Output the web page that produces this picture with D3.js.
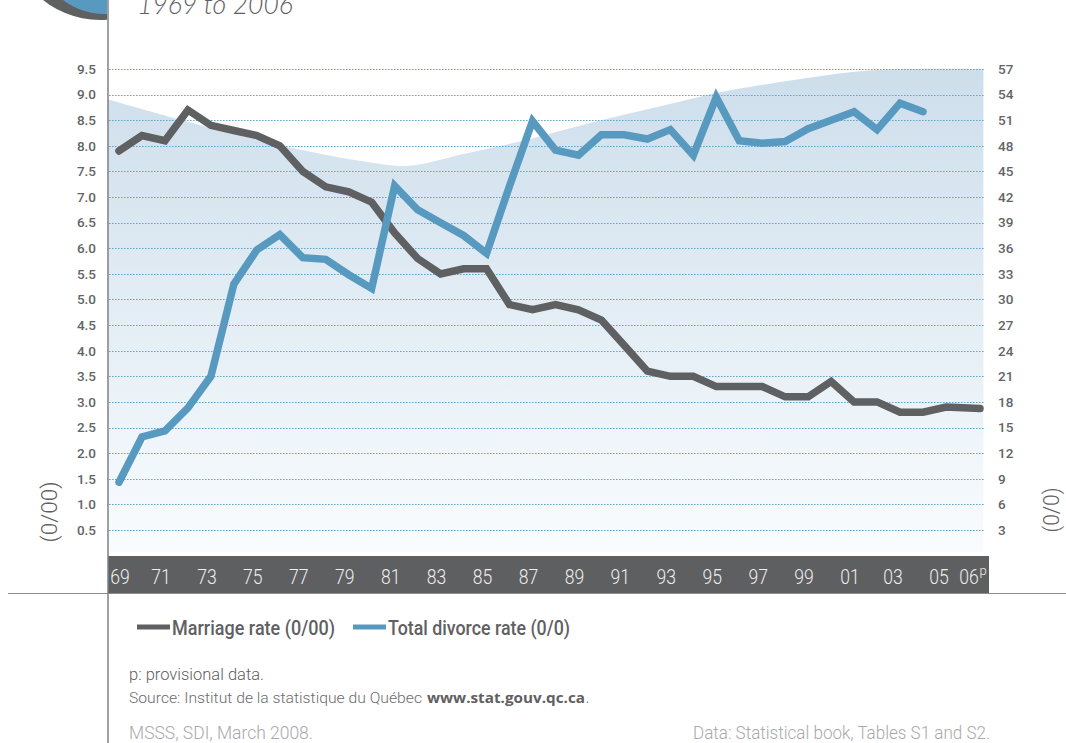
<!DOCTYPE html>
<html>
<head>
<meta charset="utf-8">
<script src="https://cdn.jsdelivr.net/npm/d3@7"></script>
<style>
html,body{margin:0;padding:0;background:#fff;overflow:hidden}
svg{display:block}
text{font-family:Roboto,"Open Sans",sans-serif}
</style>
</head>
<body>
<svg id="c" width="1066" height="743"></svg>
<script>
const years = d3.range(1969, 2007);
const marriageRate = [7.9,8.2,8.1,8.7,8.4,8.3,8.2,8.0,7.5,7.2,7.1,6.9,6.3,5.8,5.5,5.6,5.6,4.9,4.8,4.9,4.8,4.6,4.1,3.6,3.5,3.5,3.3,3.3,3.3,3.1,3.1,3.4,3.0,3.0,2.8,2.8,2.9,2.87];
const divorceRate = [8.6,13.9,14.6,17.3,21,31.8,35.8,37.6,34.9,34.7,32.9,31.3,43.3,40.5,39,37.5,35.4,43.3,50.9,47.5,46.9,49.3,49.3,48.8,49.9,46.9,53.7,48.6,48.3,48.5,50,51,52,49.9,53,52];
const leftTicks = [0.5,1,1.5,2,2.5,3,3.5,4,4.5,5,5.5,6,6.5,7,7.5,8,8.5,9,9.5];
const rightTicks = [3,6,9,12,15,18,21,24,27,30,33,36,39,42,45,48,51,54,57];
const yearLabels = [1969,1971,1973,1975,1977,1979,1981,1983,1985,1987,1989,1991,1993,1995,1997,1999,2001,2003,2005,2006];
const backdropYears = [1968.5,1972,1976.3,1980,1981.6,1984,1986.4,1989.9,1993.4,1995,1998.3,2002,2006.1];
const backdropValues = [8.91,8.47,7.98,7.67,7.61,7.84,8.08,8.49,8.86,9.03,9.28,9.48,9.5];

const svg = d3.select("#c");
const x = d3.scaleLinear().domain([1969,2005,2006]).range([119,946,980]);
const xLabel = d3.scaleLinear().domain([1969,1971,2001,2003,2005,2006]).range([120,161,850,893,939,969]);
const yL = d3.scaleLinear().domain([0,9.5]).range([555.6,69]);
const yR = d3.scaleLinear().domain([0,57]).range([555.6,69]);

const defs = svg.append("defs");
const g = defs.append("linearGradient").attr("id","bg").attr("gradientUnits","userSpaceOnUse")
  .attr("x1",0).attr("x2",0).attr("y1",69).attr("y2",552);
g.append("stop").attr("offset",0).attr("stop-color","#cddeeb");
g.append("stop").attr("offset",1).attr("stop-color","#f9fcfe");
defs.append("clipPath").attr("id","logo").append("rect").attr("x",0).attr("y",0).attr("width",107).attr("height",40);

// logo fragment
const logo = svg.append("g").attr("clip-path","url(#logo)");
logo.append("circle").attr("cx",100).attr("cy",-71).attr("r",91).attr("fill","#5f6062");
logo.append("circle").attr("cx",105).attr("cy",-56).attr("r",70).attr("fill","#589abf");

svg.append("text").attr("x",137).attr("y",14).attr("font-size",27).attr("font-weight",300)
  .attr("font-style","italic").attr("fill","#5f6062").attr("textLength",156).attr("lengthAdjust","spacingAndGlyphs")
  .style("font-family","Lato,Roboto,sans-serif").text("1969 to 2006");

// backdrop
const backdrop = d3.area().x(d=>x(d[0])).y0(552).y1(d=>yL(d[1])).curve(d3.curveCatmullRom.alpha(0.5));
svg.append("path").datum(backdropYears.map((yr,i)=>[yr,backdropValues[i]]))
  .attr("d",backdrop).attr("fill","url(#bg)");

// grid
svg.append("g").selectAll("line").data(leftTicks).join("line")
  .attr("x1",109).attr("x2",984).attr("y1",d=>Math.round(yL(d))+0.5).attr("y2",d=>Math.round(yL(d))+0.5)
  .attr("stroke","#62a8cf").attr("stroke-width",1).attr("stroke-dasharray","1.6 1.4");

// series
const line = yS => d3.line().x((d,i)=>x(years[i])).y(d=>yS(d));
svg.append("path").datum(marriageRate).attr("d",line(yL)).attr("fill","none")
  .attr("stroke","#5f6062").attr("stroke-width",7.5).attr("stroke-linecap","round").attr("stroke-linejoin","miter");
svg.append("path").datum(divorceRate).attr("d",line(yR)).attr("fill","none")
  .attr("stroke","#589abf").attr("stroke-width",7.5).attr("stroke-linecap","round").attr("stroke-linejoin","miter");

// axes
const axL = d3.axisLeft(yL).tickValues(leftTicks).tickFormat(d3.format(".1f")).tickSize(0).tickPadding(0);
const axR = d3.axisRight(yR).tickValues(rightTicks).tickFormat(d3.format("d")).tickSize(0).tickPadding(0);
const gl = svg.append("g").attr("transform","translate(96,0)").call(axL);
const gr = svg.append("g").attr("transform","translate(998,0)").call(axR);
[gl,gr].forEach(a=>{
  a.select(".domain").remove();
  a.selectAll("text").style("font-family","Roboto,sans-serif").attr("font-size",13.5).attr("font-weight",500).attr("fill","#636466");
});

// bottom bar and frame
svg.append("rect").attr("x",108).attr("y",556).attr("width",881).attr("height",38).attr("fill","#5e5f61");
svg.append("line").attr("x1",8).attr("x2",1066).attr("y1",593.5).attr("y2",593.5).attr("stroke","#8b8c8e").attr("stroke-width",1);
svg.append("line").attr("x1",108).attr("x2",108).attr("y1",0).attr("y2",743).attr("stroke","#808183").attr("stroke-width",1.5);

svg.append("g").selectAll("text").data(yearLabels).join("text")
  .attr("x",d=>xLabel(d)).attr("y",584).attr("text-anchor","middle").attr("font-size",20).attr("font-weight",300)
  .attr("fill","#eeeeee").attr("textLength",19.5).attr("lengthAdjust","spacingAndGlyphs").text(d=>String(d).slice(2));
svg.append("text").attr("x",979.5).attr("y",575).attr("font-size",13).attr("font-weight",300).attr("fill","#eeeeee").text("p");

// axis titles
svg.append("text").attr("transform","translate(57,512) rotate(-90)").attr("text-anchor","middle")
  .attr("font-size",22).attr("font-weight",300).attr("fill","#5f6062").attr("textLength",61).attr("lengthAdjust","spacingAndGlyphs").text("(0/00)");
svg.append("text").attr("transform","translate(1059,510) rotate(-90)").attr("text-anchor","middle")
  .attr("font-size",22).attr("font-weight",300).attr("fill","#5f6062").attr("textLength",45).attr("lengthAdjust","spacingAndGlyphs").text("(0/0)");

// legend
const legend = [
  {name:"Marriage rate (0/00)",color:"#5f6062",x0:137,x1:170,tx:172,tw:163},
  {name:"Total divorce rate (0/0)",color:"#589abf",x0:353,x1:386,tx:388,tw:182}
];
legend.forEach(l=>{
  svg.append("line").attr("x1",l.x0).attr("x2",l.x1).attr("y1",627).attr("y2",627).attr("stroke",l.color).attr("stroke-width",5);
  svg.append("text").attr("x",l.tx).attr("y",635).attr("font-size",20).attr("font-weight",500).attr("fill","#5f6062")
    .attr("textLength",l.tw).attr("lengthAdjust","spacingAndGlyphs").text(l.name);
});

// notes
function note(t,xp,yp,w,size,fill,weight,family){
  const n = svg.append("text").attr("x",xp).attr("y",yp).attr("font-size",size).attr("fill",fill)
    .attr("font-weight",weight||300).attr("textLength",w).attr("lengthAdjust","spacingAndGlyphs").text(t);
  if(family) n.style("font-family",family);
}
note("p: provisional data.",129,680,135,17,"#5f6062",300);
note("Source: Institut de la statistique du Québec",129,703,293,15,"#6a6b6d",300);
note("www.stat.gouv.qc.ca",427,703,158,14,"#5f6062",700,"'Open Sans',sans-serif");
note(".",586,703,3,14,"#6a6b6d",400);
note("MSSS, SDI, March 2008.",129,739,184,18,"#a7a9ab",300);
note("Data: Statistical book, Tables S1 and S2.",693,739,297,18,"#a7a9ab",300);
</script>
</body>
</html>
